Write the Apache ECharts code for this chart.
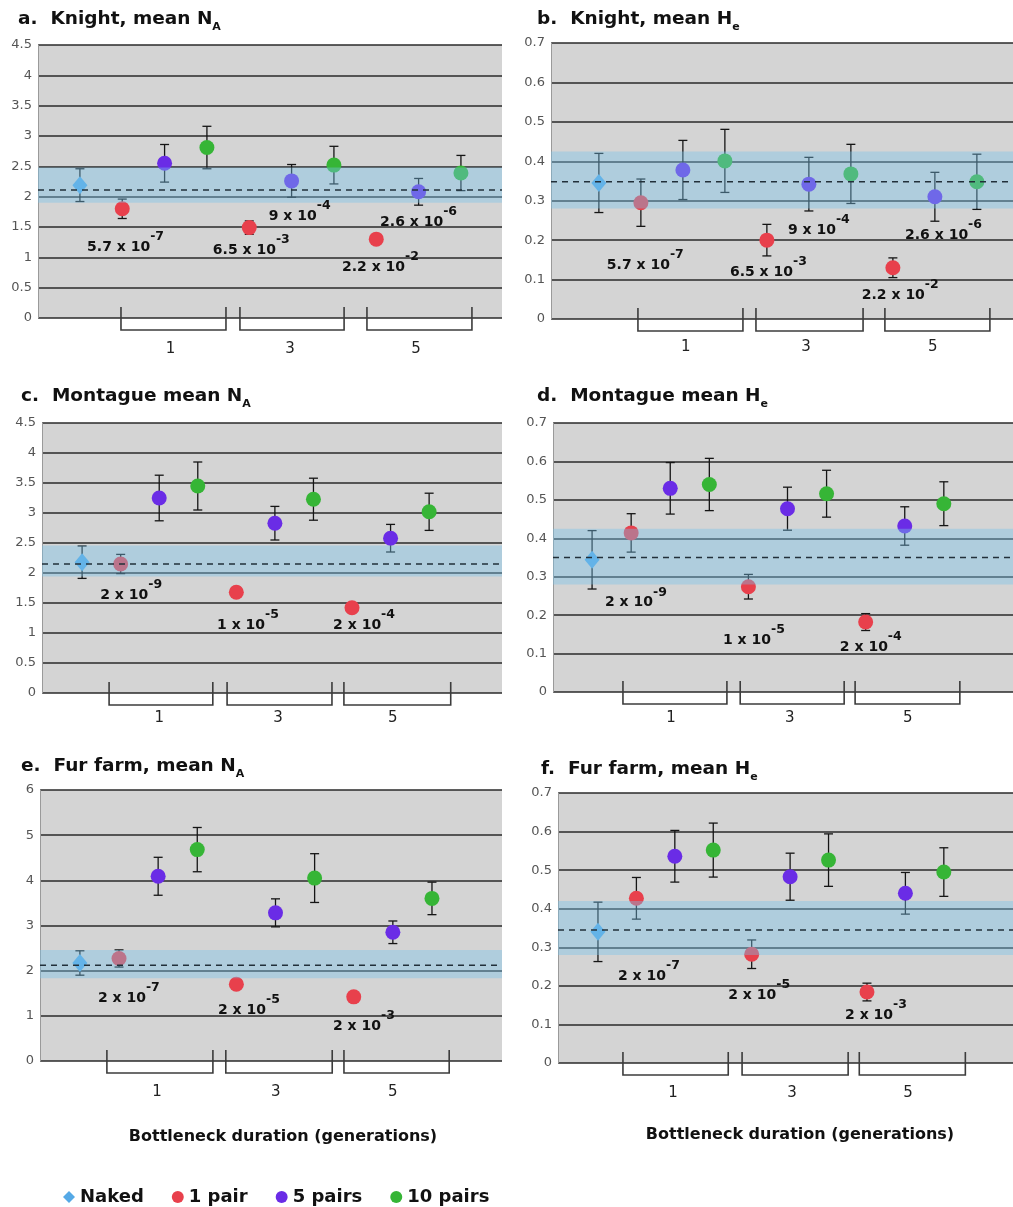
<!DOCTYPE html>
<html><head><meta charset="utf-8">
<script src="https://cdn.jsdelivr.net/npm/echarts@6/dist/echarts.min.js"></script>
<style>html,body{margin:0;padding:0;background:#fff}#c{width:1013px;height:1207px}</style>
</head><body><div id="c"></div>
<script>
// ---------------- data ----------------
const GROUPS = ['Naked', '1 pair', '5 pairs', '10 pairs'];
const DURATIONS = ['1', '3', '5'];
// point slot -> group (0 naked, then 1 pair / 5 pairs / 10 pairs for durations 1, 3, 5)
const POINT_GROUP = [0, 1, 2, 3, 1, 2, 3, 1, 2, 3];
const AXIS_TITLE = 'Bottleneck duration (generations)';

const NA_TICKS = [0, 0.5, 1, 1.5, 2, 2.5, 3, 3.5, 4, 4.5];
const HE_TICKS = [0, 0.1, 0.2, 0.3, 0.4, 0.5, 0.6, 0.7];
const FUR_NA_TICKS = [0, 1, 2, 3, 4, 5, 6];

const TITLES = [
  ['a.  Knight, mean N', 'A'], ['b.  Knight, mean H', 'e'],
  ['c.  Montague mean N', 'A'], ['d.  Montague mean H', 'e'],
  ['e.  Fur farm, mean N', 'A'], ['f.  Fur farm, mean H', 'e']
];

const knightNA_mean = [2.19, 1.80, 2.55, 2.81, 1.49, 2.26, 2.52, 1.30, 2.08, 2.39];
const knightNA_err  = [0.27, 0.16, 0.31, 0.35, 0.11, 0.27, 0.31, 0.06, 0.22, 0.29];
const knightNA_band = [1.90, 2.48, 2.11];
const knightNA_notes = [[0.17, 1.17, '5.7 x 10', '-7'], [3.14, 1.12, '6.5 x 10', '-3'], [4.46, 1.68, '9 x 10', '-4'], [6.19, 0.84, '2.2 x 10', '-2'], [7.09, 1.58, '2.6 x 10', '-6']];
const knightNA_brackets = [[0.97, 3.45, 2.14], [3.78, 6.24, 4.96], [6.78, 9.26, 7.94]];

const knightHe_mean = [0.345, 0.295, 0.378, 0.401, 0.200, 0.342, 0.368, 0.130, 0.310, 0.348];
const knightHe_err  = [0.075, 0.060, 0.075, 0.080, 0.040, 0.068, 0.075, 0.025, 0.062, 0.070];
const knightHe_band = [0.28, 0.425, 0.348];
const knightHe_notes = [[0.19, 0.137, '5.7 x 10', '-7'], [3.12, 0.119, '6.5 x 10', '-3'], [4.50, 0.226, '9 x 10', '-4'], [6.26, 0.061, '2.2 x 10', '-2'], [7.29, 0.213, '2.6 x 10', '-6']];
const knightHe_brackets = [[0.93, 3.43, 2.07], [3.74, 6.29, 4.93], [6.81, 9.31, 7.95]];

const montNA_mean = [2.18, 2.15, 3.25, 3.45, 1.68, 2.83, 3.23, 1.42, 2.58, 3.02];
const montNA_err  = [0.27, 0.16, 0.38, 0.40, 0.08, 0.28, 0.35, 0.08, 0.23, 0.31];
const montNA_band = [1.94, 2.46, 2.15];
const montNA_notes = [[0.47, 1.63, '2 x 10', '-9'], [3.50, 1.13, '1 x 10', '-5'], [6.51, 1.13, '2 x 10', '-4']];
const montNA_brackets = [[0.70, 3.39, 2.00], [3.76, 6.48, 5.08], [6.79, 9.56, 8.06]];

const montHe_mean = [0.344, 0.414, 0.530, 0.540, 0.274, 0.477, 0.516, 0.182, 0.432, 0.490];
const montHe_err  = [0.076, 0.050, 0.067, 0.068, 0.032, 0.056, 0.061, 0.022, 0.050, 0.057];
const montHe_band = [0.28, 0.425, 0.35];
const montHe_notes = [[0.33, 0.232, '2 x 10', '-9'], [3.35, 0.135, '1 x 10', '-5'], [6.34, 0.117, '2 x 10', '-4']];
const montHe_brackets = [[0.79, 3.45, 2.02], [3.79, 6.45, 5.06], [6.73, 9.41, 8.08]];

const furNA_mean = [2.17, 2.27, 4.09, 4.68, 1.70, 3.28, 4.05, 1.42, 2.85, 3.60];
const furNA_err  = [0.27, 0.19, 0.42, 0.49, 0.10, 0.31, 0.54, 0.10, 0.25, 0.36];
const furNA_band = [1.83, 2.46, 2.12];
const furNA_notes = [[0.46, 1.39, '2 x 10', '-7'], [3.53, 1.13, '2 x 10', '-5'], [6.47, 0.77, '2 x 10', '-3']];
const furNA_brackets = [[0.69, 3.40, 1.97], [3.73, 6.45, 5.01], [6.75, 9.44, 8.00]];

const furHe_mean = [0.340, 0.427, 0.536, 0.552, 0.282, 0.483, 0.526, 0.184, 0.440, 0.495];
const furHe_err  = [0.077, 0.054, 0.067, 0.070, 0.037, 0.061, 0.068, 0.023, 0.054, 0.063];
const furHe_band = [0.28, 0.42, 0.345];
const furHe_notes = [[0.52, 0.225, '2 x 10', '-7'], [3.39, 0.176, '2 x 10', '-5'], [6.43, 0.124, '2 x 10', '-3']];
const furHe_brackets = [[0.65, 3.39, 1.95], [3.75, 6.51, 5.05], [6.80, 9.56, 8.07]];

// ---------------- layout / style ----------------
const COLORS = ['#55a9e6', '#e8404c', '#6a2ce6', '#36b536'];
const FONT = '"DejaVu Sans", "Liberation Sans", sans-serif';

const PANELS = [
  {ticks: NA_TICKS, mean: knightNA_mean, err: knightNA_err, band: knightNA_band, notes: knightNA_notes, brackets: knightNA_brackets,
   left: 38, top: 45, width: 464, height: 273, xMin: -0.99, xMax: 9.97, tx: 18, ty: 6, lab: 31},
  {ticks: HE_TICKS, mean: knightHe_mean, err: knightHe_err, band: knightHe_band, notes: knightHe_notes, brackets: knightHe_brackets,
   left: 551, top: 43, width: 462, height: 276, xMin: -1.14, xMax: 9.86, tx: 537, ty: 6, lab: 28},
  {ticks: NA_TICKS, mean: montNA_mean, err: montNA_err, band: montNA_band, notes: montNA_notes, brackets: montNA_brackets,
   left: 42, top: 423, width: 460, height: 270, xMin: -1.04, xMax: 10.89, tx: 21, ty: 383, lab: 25},
  {ticks: HE_TICKS, mean: montHe_mean, err: montHe_err, band: montHe_band, notes: montHe_notes, brackets: montHe_brackets,
   left: 553, top: 423, width: 460, height: 269, xMin: -1.0, xMax: 10.77, tx: 537, ty: 383, lab: 26},
  {ticks: FUR_NA_TICKS, mean: furNA_mean, err: furNA_err, band: furNA_band, notes: furNA_notes, brackets: furNA_brackets,
   left: 40, top: 790, width: 462, height: 271, xMin: -1.02, xMax: 10.79, tx: 21, ty: 753, lab: 31},
  {ticks: HE_TICKS, mean: furHe_mean, err: furHe_err, band: furHe_band, notes: furHe_notes, brackets: furHe_brackets,
   left: 558, top: 793, width: 455, height: 270, xMin: -1.04, xMax: 10.8, tx: 541, ty: 756, lab: 30}
];

const grid = [], xAxis = [], yAxis = [], series = [], title = [];

PANELS.forEach((p, i) => {
  grid.push({left: p.left, top: p.top, width: p.width, height: p.height, show: true,
    backgroundColor: '#d4d4d4', borderWidth: 0});
  xAxis.push({gridIndex: i, type: 'value', min: p.xMin, max: p.xMax, show: false});
  const t = p.ticks;
  yAxis.push({gridIndex: i, type: 'value', min: t[0], max: t[t.length - 1], interval: t[1] - t[0],
    axisLine: {show: true, onZero: false, lineStyle: {color: '#9a9a9a', width: 1}},
    axisTick: {show: false},
    axisLabel: {color: '#555', fontSize: 13, fontFamily: FONT, margin: 6,
      formatter: v => { const k = t.findIndex(x => Math.abs(x - v) < 1e-6); return k >= 0 ? String(t[k]) : ''; }},
    splitLine: {show: true, lineStyle: {color: '#2a2a2a', width: 1.6}}
  });

  title.push({
    text: '{t|' + TITLES[i][0] + '}{s|' + TITLES[i][1] + '}',
    left: p.tx, top: p.ty, padding: 0,
    textStyle: {rich: {
      t: {fontSize: 18.5, fontWeight: 'bold', fontFamily: FONT, color: '#111', lineHeight: 24},
      s: {fontSize: 11, fontWeight: 'bold', fontFamily: FONT, color: '#111', padding: [16, 0, 0, 0]}
    }}
  });

  // error bars (under markers)
  series.push({
    type: 'custom', xAxisIndex: i, yAxisIndex: i, z: 2, silent: true,
    data: p.mean.map((m, k) => [k, m, p.err[k]]),
    encode: {x: 0, y: 1},
    renderItem: (params, api) => {
      const x = api.value(0), m = api.value(1), e = api.value(2);
      const a = api.coord([x, m + e]), b = api.coord([x, m - e]);
      const w = 4.5, st = {stroke: '#151515', lineWidth: 1.3};
      return {type: 'group', children: [
        {type: 'line', shape: {x1: a[0], y1: a[1], x2: b[0], y2: b[1]}, style: st},
        {type: 'line', shape: {x1: a[0] - w, y1: a[1], x2: a[0] + w, y2: a[1]}, style: st},
        {type: 'line', shape: {x1: b[0] - w, y1: b[1], x2: b[0] + w, y2: b[1]}, style: st}
      ]};
    }
  });

  // points
  GROUPS.forEach((g, gi) => {
    const data = [];
    POINT_GROUP.forEach((pg, k) => { if (pg === gi) data.push([k, p.mean[k]]); });
    series.push({
      type: 'scatter', name: g, xAxisIndex: i, yAxisIndex: i, z: 3,
      symbol: gi === 0 ? 'diamond' : 'circle', symbolSize: gi === 0 ? [15, 18] : 15,
      itemStyle: {color: COLORS[gi], opacity: 1},
      data: data
    });
  });

  // reference band (drawn over points, translucent) + dashed mean
  series.push({
    type: 'custom', xAxisIndex: i, yAxisIndex: i, z: 5, silent: true,
    data: [[0, p.band[0], p.band[1], p.band[2]]],
    encode: {x: 0, y: [1, 2]},
    renderItem: (params, api) => {
      const cs = params.coordSys;
      const yLo = api.coord([0, api.value(1)])[1];
      const yHi = api.coord([0, api.value(2)])[1];
      const yM = api.coord([0, api.value(3)])[1];
      return {type: 'group', children: [
        {type: 'rect', shape: {x: cs.x, y: yHi, width: cs.width, height: yLo - yHi},
          style: {fill: 'rgba(120,196,236,0.40)'}},
        {type: 'line', shape: {x1: cs.x, y1: yM, x2: cs.x + cs.width, y2: yM},
          style: {stroke: '#22303a', lineWidth: 1.4, lineDash: [6, 5]}}
      ]};
    }
  });

  // duration brackets
  series.push({
    type: 'custom', xAxisIndex: i, yAxisIndex: i, z: 6, silent: true, clip: false,
    data: p.brackets.map(b => [b[0], 0, b[1], b[2]]),
    encode: {x: 0, y: 1},
    renderItem: (params, api) => {
      const b = p.brackets[params.dataIndex];
      const a0 = api.coord([b[0], 0]), a1 = api.coord([b[1], 0]), lc = api.coord([b[2], 0]);
      const yT = a0[1] - 11, yB = a0[1] + 12;
      return {type: 'group', children: [
        {type: 'polyline', shape: {points: [[a0[0], yT], [a0[0], yB], [a1[0], yB], [a1[0], yT]]},
          style: {stroke: '#3c3c3c', lineWidth: 1.6, fill: 'none'}},
        {type: 'text', style: {text: DURATIONS[params.dataIndex], x: lc[0], y: a0[1] + p.lab,
          align: 'center', verticalAlign: 'middle', fontSize: 15, fontFamily: FONT, fill: '#222'}}
      ]};
    }
  });

  // p-value annotations
  series.push({
    type: 'custom', xAxisIndex: i, yAxisIndex: i, z: 7, silent: true, clip: false,
    data: p.notes.map(n => [n[0], n[1]]),
    encode: {x: 0, y: 1},
    renderItem: (params, api) => {
      const n = p.notes[params.dataIndex];
      const c = api.coord([n[0], n[1]]);
      return {type: 'text', style: {
        x: c[0], y: c[1], align: 'left', verticalAlign: 'middle',
        text: '{b|' + n[2] + '}{s|' + n[3] + '}',
        rich: {
          b: {fontSize: 14, fontWeight: 'bold', fontFamily: FONT, fill: '#111', lineHeight: 20},
          s: {fontSize: 12.5, fontWeight: 'bold', fontFamily: FONT, fill: '#111', padding: [0, 0, 20, 0]}
        }
      }};
    }
  });
});

const chart = echarts.init(document.getElementById('c'), null, {renderer: 'canvas'});
chart.setOption({
  animation: false,
  backgroundColor: '#fff',
  title: title,
  grid: grid, xAxis: xAxis, yAxis: yAxis, series: series,
  legend: {
    left: 58, top: 1183, itemWidth: 12, itemHeight: 12, itemGap: 28, selectedMode: false,
    textStyle: {fontSize: 18, fontWeight: 'bold', fontFamily: FONT, color: '#111'},
    data: GROUPS.map((g, gi) => ({name: g, icon: gi === 0 ? 'diamond' : 'circle'}))
  },
  graphic: [
    {type: 'text', x: 283, y: 1137, style: {text: AXIS_TITLE, align: 'center', verticalAlign: 'middle',
      fontSize: 16, fontWeight: 'bold', fontFamily: FONT, fill: '#111'}},
    {type: 'text', x: 800, y: 1135, style: {text: AXIS_TITLE, align: 'center', verticalAlign: 'middle',
      fontSize: 16, fontWeight: 'bold', fontFamily: FONT, fill: '#111'}}
  ]
});
</script>
</body></html>
